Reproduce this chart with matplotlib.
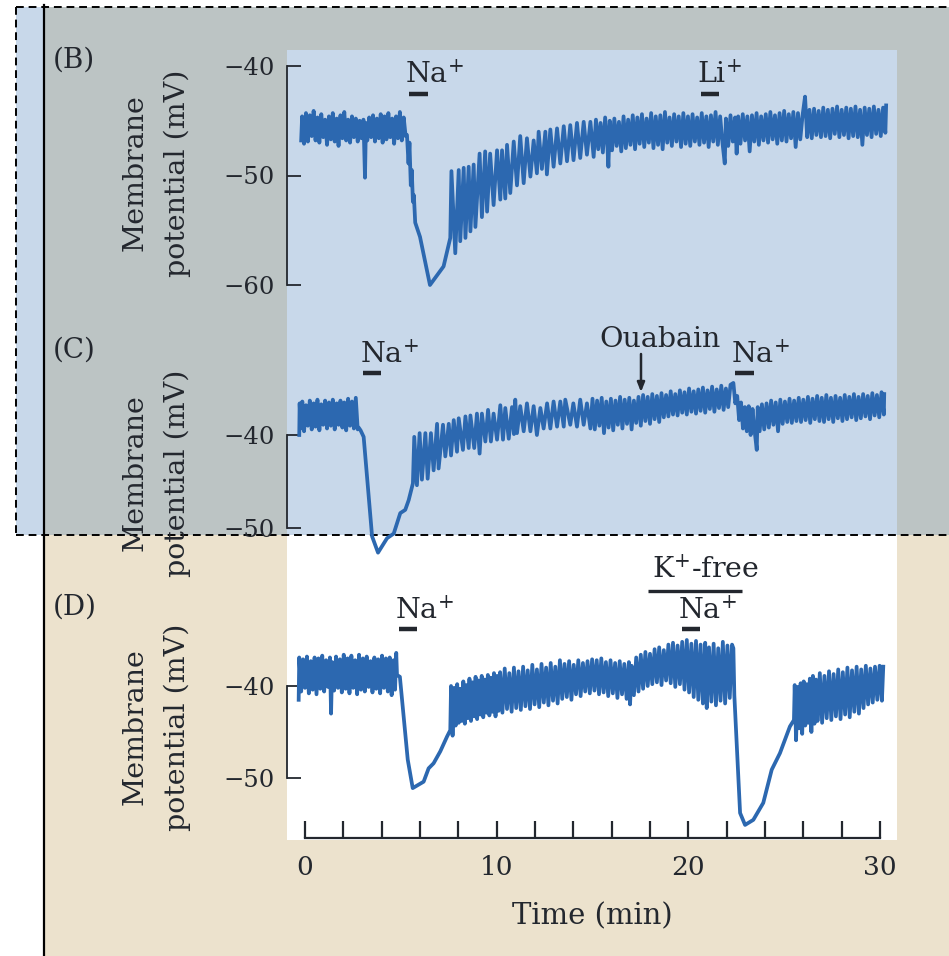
import matplotlib.pyplot as plt
from matplotlib.patches import Rectangle

plt.rcParams['font.family'] = ['DejaVu Serif']
plt.rcParams['mathtext.fontset'] = 'dejavuserif'

W, H = 949, 956
TRACE = '#2c68b0'
INK = '#23272e'

# time (min), membrane potential (mV)
B_TRACE = [
    (-0.20, -46.8), (-0.15, -44.6), (-0.05, -47.1), (0.05, -44.3), (0.15, -46.9), (0.25, -44.5),
    (0.35, -46.4), (0.45, -44.1), (0.55, -46.8), (0.65, -44.7), (0.75, -47.0), (0.85, -44.4),
    (0.95, -46.5), (1.05, -44.9), (1.15, -47.2), (1.25, -44.6), (1.35, -46.7), (1.45, -44.3),
    (1.55, -46.9), (1.65, -44.8), (1.75, -47.3), (1.85, -44.5), (1.95, -46.6), (2.05, -44.2),
    (2.15, -46.8), (2.25, -44.9), (2.35, -47.0), (2.45, -44.6), (2.55, -46.5), (2.65, -44.8),
    (2.75, -46.9), (2.85, -45.0), (2.95, -46.6), (3.05, -44.9), (3.13, -50.2), (3.18, -45.2),
    (3.25, -46.8), (3.35, -44.7), (3.45, -46.5), (3.55, -44.5), (3.65, -46.9), (3.75, -44.8),
    (3.85, -46.6), (3.95, -44.4), (4.05, -47.0), (4.15, -44.6), (4.25, -46.7), (4.35, -44.3),
    (4.45, -46.5), (4.55, -44.8), (4.65, -47.1), (4.75, -44.6), (4.85, -46.6), (4.95, -44.2),
    (5.05, -46.8), (5.15, -44.7), (5.25, -46.4), (5.32, -46.3), (5.40, -48.9), (5.45, -47.0),
    (5.52, -50.9), (5.57, -49.5), (5.63, -52.4), (5.68, -51.8), (5.75, -54.3), (6.00, -55.6),
    (6.52, -60.0), (7.23, -58.3), (7.58, -55.7),
    (7.64, -49.6), (7.84, -57.1), (8.02, -49.5), (8.10, -56.0), (8.28, -49.3), (8.37, -55.7),
    (8.54, -49.2), (8.63, -55.1), (8.80, -49.0), (8.89, -54.7), (9.11, -48.0), (9.23, -53.8),
    (9.40, -47.8), (9.50, -53.3), (9.66, -48.0), (9.84, -52.7), (10.02, -47.7), (10.19, -52.2),
    (10.28, -47.7), (10.45, -52.1), (10.54, -47.2), (10.71, -51.6), (10.89, -46.9), (11.06, -50.9),
    (11.23, -46.4), (11.41, -50.7), (11.58, -46.6), (11.76, -50.1), (11.93, -46.8), (12.10, -49.8),
    (12.19, -46.0), (12.36, -49.4), (12.54, -46.0), (12.62, -49.9), (12.80, -45.8), (12.97, -49.2),
    (13.15, -45.7), (13.32, -48.9), (13.50, -45.5), (13.67, -48.7), (13.84, -45.4), (14.01, -48.6),
    (14.19, -45.2), (14.36, -48.4), (14.54, -45.1), (14.71, -48.1), (14.89, -45.1), (15.06, -48.3),
    (15.18, -44.9), (15.30, -47.6), (15.42, -45.2), (15.54, -47.9), (15.66, -44.7), (15.78, -47.4),
    (15.83, -49.2), (15.90, -45.0), (16.02, -47.7), (16.14, -44.8), (16.26, -47.3), (16.38, -45.1),
    (16.50, -47.8), (16.62, -44.6), (16.74, -47.5), (16.86, -44.9), (16.98, -47.2), (17.10, -44.5),
    (17.22, -47.6), (17.34, -44.7), (17.46, -47.1), (17.58, -44.4), (17.70, -47.4), (17.82, -44.8),
    (17.94, -47.0), (18.06, -44.3), (18.18, -47.5), (18.30, -44.6), (18.42, -47.2), (18.54, -44.5),
    (18.66, -47.6), (18.78, -44.2), (18.90, -47.0), (19.02, -44.7), (19.14, -47.3), (19.26, -44.4),
    (19.38, -46.9), (19.50, -44.6), (19.62, -47.4), (19.74, -44.3), (19.86, -47.1), (19.98, -44.6),
    (20.10, -47.3), (20.22, -44.4), (20.34, -46.9), (20.46, -44.7), (20.58, -47.2), (20.70, -44.3),
    (20.82, -47.0), (20.94, -44.6), (21.06, -47.4), (21.18, -44.5), (21.30, -46.9), (21.42, -44.2),
    (21.54, -47.2), (21.66, -44.6), (21.78, -47.0), (21.90, -48.9), (21.96, -44.8), (22.08, -47.3),
    (22.20, -44.5), (22.32, -46.9), (22.44, -44.7), (22.52, -48.0), (22.60, -44.6), (22.72, -47.1),
    (22.84, -44.4), (22.96, -46.8), (23.08, -44.6), (23.20, -47.8), (23.32, -44.5), (23.44, -46.9),
    (23.56, -44.3), (23.68, -47.2), (23.80, -44.6), (23.92, -46.8), (24.04, -44.4), (24.16, -47.0),
    (24.28, -44.2), (24.40, -46.7), (24.52, -44.5), (24.64, -47.1), (24.76, -44.3), (24.88, -46.8),
    (25.00, -44.1), (25.12, -46.9), (25.24, -44.4), (25.36, -46.6), (25.48, -44.2), (25.60, -47.4),
    (25.72, -44.3), (25.84, -46.7), (25.96, -44.5), (26.09, -42.8), (26.20, -46.5), (26.32, -44.0),
    (26.44, -46.6), (26.56, -43.9), (26.68, -46.3), (26.80, -44.1), (26.92, -46.5), (27.04, -43.8),
    (27.16, -46.4), (27.28, -44.0), (27.40, -46.6), (27.52, -43.9), (27.64, -46.2), (27.76, -43.7),
    (27.88, -46.5), (28.00, -44.0), (28.12, -46.3), (28.24, -43.8), (28.36, -46.6), (28.48, -43.9),
    (28.60, -46.4), (28.72, -43.7), (28.84, -46.5), (28.96, -44.0), (29.08, -47.2), (29.20, -43.8),
    (29.32, -46.3), (29.44, -43.9), (29.56, -46.5), (29.68, -43.7), (29.80, -46.2), (29.92, -44.0),
    (30.04, -46.4), (30.16, -43.8), (30.28, -46.1), (30.32, -43.6),
]

C_TRACE = [
    (-0.30, -40.0), (-0.28, -36.6), (-0.22, -39.3), (-0.14, -36.4), (-0.05, -39.6), (0.05, -36.8),
    (0.15, -39.0), (0.25, -36.3), (0.35, -39.4), (0.45, -36.6), (0.55, -39.1), (0.65, -36.2),
    (0.75, -39.5), (0.85, -36.7), (0.95, -38.9), (1.05, -36.3), (1.15, -39.3), (1.25, -36.5),
    (1.35, -39.0), (1.45, -36.2), (1.55, -39.4), (1.65, -36.6), (1.75, -38.9), (1.85, -36.3),
    (1.95, -39.2), (2.05, -36.5), (2.15, -39.5), (2.25, -36.1), (2.35, -39.0), (2.45, -36.4),
    (2.55, -39.3), (2.65, -36.0), (2.75, -39.4), (2.80, -39.2), (2.90, -39.5), (3.06, -40.2),
    (3.50, -50.9), (3.81, -52.65), (4.28, -51.1), (4.63, -50.6), (4.97, -48.4), (5.23, -48.05),
    (5.41, -47.0), (5.63, -45.2),
    (5.70, -40.2), (5.84, -45.4), (5.98, -39.8), (6.10, -44.8), (6.28, -39.8), (6.40, -44.7),
    (6.57, -39.8), (6.71, -43.8), (6.89, -38.8), (6.97, -43.6), (7.20, -38.9), (7.32, -42.3),
    (7.50, -38.8), (7.62, -42.2), (7.76, -38.4), (7.93, -41.8), (8.02, -38.2), (8.24, -41.6),
    (8.37, -38.0), (8.54, -41.4), (8.63, -37.9), (8.83, -41.4), (8.97, -37.7), (9.11, -42.0),
    (9.23, -37.7), (9.41, -40.7), (9.55, -37.3), (9.70, -40.7), (9.84, -37.7), (10.02, -40.5),
    (10.19, -36.8), (10.33, -40.5), (10.45, -37.1), (10.63, -40.4), (10.80, -37.0), (10.90, -39.9),
    (10.97, -36.2), (11.06, -39.8), (11.23, -36.9), (11.41, -39.6), (11.58, -36.6), (11.76, -39.6),
    (11.93, -36.9), (12.10, -40.0), (12.28, -37.1), (12.45, -39.3), (12.63, -36.6), (12.80, -39.3),
    (12.97, -36.4), (13.15, -39.1), (13.32, -36.4), (13.50, -39.1), (13.58, -36.2), (13.84, -38.9),
    (14.00, -36.6), (14.19, -39.1), (14.36, -36.2), (14.54, -38.9), (14.71, -36.6), (14.89, -39.3),
    (15.00, -36.1), (15.12, -39.4), (15.24, -36.3), (15.36, -39.0), (15.48, -36.0), (15.60, -39.8),
    (15.72, -36.4), (15.84, -39.2), (15.96, -36.1), (16.08, -39.5), (16.20, -36.3), (16.32, -38.9),
    (16.44, -35.9), (16.56, -39.3), (16.68, -36.2), (16.80, -38.8), (16.92, -36.0), (17.04, -39.4),
    (17.16, -36.3), (17.28, -38.7), (17.40, -35.9), (17.52, -39.0), (17.64, -35.7), (17.76, -38.5),
    (17.88, -35.9), (18.00, -38.8), (18.12, -35.6), (18.24, -38.3), (18.36, -35.8), (18.48, -38.6),
    (18.60, -35.5), (18.72, -38.1), (18.84, -35.7), (18.96, -38.0), (19.08, -35.3), (19.20, -37.8),
    (19.32, -35.6), (19.44, -37.9), (19.56, -35.2), (19.68, -37.6), (19.80, -35.4), (19.92, -37.8),
    (20.04, -35.0), (20.16, -37.5), (20.28, -35.3), (20.40, -37.7), (20.52, -35.1), (20.64, -37.4),
    (20.76, -34.9), (20.88, -37.6), (21.00, -35.2), (21.12, -37.2), (21.24, -34.8), (21.36, -37.5),
    (21.48, -35.1), (21.60, -37.1), (21.72, -34.7), (21.84, -37.3), (21.96, -35.0), (22.08, -37.0),
    (22.20, -34.6), (22.35, -34.4), (22.45, -36.6), (22.55, -35.8), (22.65, -38.4), (22.75, -36.5),
    (22.85, -39.3), (22.95, -37.0), (23.05, -39.6), (23.15, -36.9), (23.25, -40.0), (23.35, -37.2),
    (23.45, -39.4), (23.57, -41.6), (23.62, -37.0), (23.72, -39.6), (23.84, -36.7), (23.96, -39.4),
    (24.08, -36.6), (24.20, -39.2), (24.32, -36.3), (24.44, -38.9), (24.56, -36.5), (24.68, -39.6),
    (24.80, -36.2), (24.92, -38.8), (25.04, -36.4), (25.16, -38.6), (25.28, -36.1), (25.40, -38.7),
    (25.52, -36.3), (25.64, -38.5), (25.76, -36.0), (25.88, -38.6), (26.00, -36.2), (26.12, -38.4),
    (26.24, -35.9), (26.36, -38.7), (26.48, -36.1), (26.60, -38.3), (26.72, -35.8), (26.84, -38.5),
    (26.96, -36.0), (27.08, -38.6), (27.20, -35.7), (27.32, -38.3), (27.44, -36.0), (27.56, -38.6),
    (27.68, -35.8), (27.80, -38.2), (27.92, -36.0), (28.04, -38.5), (28.16, -35.7), (28.28, -38.3),
    (28.40, -35.9), (28.52, -38.1), (28.64, -35.6), (28.76, -38.4), (28.88, -35.9), (29.00, -38.2),
    (29.12, -35.6), (29.24, -38.0), (29.36, -35.8), (29.48, -38.3), (29.60, -35.5), (29.72, -37.9),
    (29.84, -35.7), (29.96, -38.1), (30.08, -35.4), (30.20, -37.8), (30.22, -35.6),
]

D_TRACE = [
    (-0.33, -41.5), (-0.30, -36.9), (-0.20, -40.6), (-0.10, -37.1), (0.00, -40.2), (0.10, -36.8),
    (0.20, -40.8), (0.30, -37.3), (0.40, -40.4), (0.50, -36.9), (0.60, -40.9), (0.70, -37.0),
    (0.80, -40.3), (0.90, -36.7), (1.00, -40.6), (1.10, -37.2), (1.20, -40.1), (1.30, -36.9),
    (1.36, -43.0), (1.42, -37.4), (1.52, -40.5), (1.62, -36.8), (1.72, -40.2), (1.82, -37.1),
    (1.92, -40.7), (2.02, -36.6), (2.12, -40.3), (2.22, -37.0), (2.32, -40.8), (2.42, -36.7),
    (2.52, -40.2), (2.62, -37.2), (2.72, -40.9), (2.82, -36.6), (2.92, -40.4), (3.02, -37.0),
    (3.12, -40.6), (3.22, -36.8), (3.32, -40.1), (3.42, -37.3), (3.52, -40.7), (3.62, -36.9),
    (3.72, -40.3), (3.82, -37.1), (3.92, -40.8), (4.02, -36.7), (4.12, -40.2), (4.22, -37.0),
    (4.32, -40.6), (4.42, -36.9), (4.52, -41.0), (4.62, -37.2), (4.70, -40.4), (4.76, -36.4),
    (4.80, -38.8), (4.95, -39.0), (5.36, -48.0), (5.62, -51.1), (6.19, -50.4), (6.45, -48.95),
    (6.71, -48.4), (7.06, -47.1), (7.41, -45.5), (7.58, -44.8),
    (7.62, -40.0), (7.70, -45.4), (7.78, -40.2), (7.86, -44.3), (7.94, -39.8), (8.02, -44.0),
    (8.10, -40.3), (8.18, -43.8), (8.26, -39.5), (8.34, -44.1), (8.42, -39.9), (8.50, -43.5),
    (8.58, -39.2), (8.66, -43.8), (8.74, -39.6), (8.82, -43.3), (8.90, -39.0), (8.98, -43.6),
    (9.06, -39.4), (9.14, -43.1), (9.22, -38.9), (9.30, -43.4), (9.38, -39.3), (9.46, -42.9),
    (9.54, -38.8), (9.62, -43.2), (9.70, -39.1), (9.78, -42.8), (9.86, -38.6), (9.94, -43.3),
    (10.02, -38.9), (10.10, -42.7), (10.18, -38.5), (10.30, -42.9), (10.42, -38.1), (10.54, -42.5),
    (10.66, -38.6), (10.78, -42.8), (10.90, -38.0), (11.02, -42.4), (11.14, -38.4), (11.26, -42.6),
    (11.38, -37.9), (11.50, -42.2), (11.62, -38.3), (11.74, -42.5), (11.86, -37.7), (11.98, -42.0),
    (12.10, -38.2), (12.22, -42.3), (12.34, -37.6), (12.46, -41.8), (12.58, -38.0), (12.70, -42.1),
    (12.82, -37.5), (12.94, -41.6), (13.06, -37.9), (13.18, -41.9), (13.30, -37.2), (13.42, -41.4),
    (13.54, -37.6), (13.66, -41.2), (13.78, -37.3), (13.90, -41.5), (14.02, -37.7), (14.14, -40.9),
    (14.26, -37.2), (14.38, -41.1), (14.50, -37.5), (14.62, -40.6), (14.74, -37.3), (14.86, -40.8),
    (14.98, -37.1), (15.10, -40.5), (15.22, -37.2), (15.34, -40.9), (15.46, -37.0), (15.58, -40.7),
    (15.70, -37.4), (15.82, -41.1), (15.94, -37.2), (16.06, -40.8), (16.18, -37.5), (16.30, -41.3),
    (16.42, -37.3), (16.54, -40.9), (16.66, -37.6), (16.78, -41.4), (16.90, -37.4), (16.96, -42.0),
    (17.04, -37.8), (17.16, -41.0), (17.28, -36.9), (17.40, -40.6), (17.52, -36.6), (17.64, -40.3),
    (17.76, -36.3), (17.88, -40.0), (18.00, -36.5), (18.12, -39.8), (18.24, -36.0), (18.36, -39.6),
    (18.48, -35.8), (18.60, -39.9), (18.72, -36.1), (18.84, -39.4), (18.96, -35.5), (19.08, -39.7),
    (19.20, -35.3), (19.32, -40.1), (19.44, -35.6), (19.56, -39.8), (19.68, -35.2), (19.80, -40.4),
    (19.92, -35.0), (20.04, -40.7), (20.16, -35.4), (20.28, -41.2), (20.40, -35.1), (20.52, -41.5),
    (20.64, -35.5), (20.76, -41.9), (20.88, -35.3), (20.96, -42.4), (21.08, -35.8), (21.20, -41.7),
    (21.32, -35.4), (21.44, -42.1), (21.56, -35.9), (21.68, -41.6), (21.80, -35.2), (21.92, -41.9),
    (22.04, -35.6), (22.16, -41.3), (22.28, -35.5), (22.35, -35.9), (22.40, -41.0), (22.70, -53.8),
    (22.96, -55.1), (23.39, -54.55), (23.91, -52.7), (24.35, -49.1), (24.78, -47.3), (25.30, -44.4),
    (25.51, -43.7),
    (25.55, -39.9), (25.62, -45.9), (25.70, -40.1), (25.78, -44.6), (25.86, -39.7), (25.94, -45.2),
    (26.02, -39.5), (26.10, -44.3), (26.18, -39.8), (26.26, -44.0), (26.34, -39.2), (26.42, -45.0),
    (26.50, -38.9), (26.58, -44.1), (26.66, -39.3), (26.74, -43.8), (26.86, -38.6), (26.98, -44.0),
    (27.10, -38.9), (27.22, -43.5), (27.34, -38.4), (27.46, -43.7), (27.58, -38.7), (27.70, -43.3),
    (27.82, -38.2), (27.94, -43.6), (28.06, -38.5), (28.18, -43.1), (28.30, -38.0), (28.42, -43.4),
    (28.54, -38.3), (28.66, -42.8), (28.78, -37.9), (28.90, -43.0), (29.02, -38.2), (29.14, -42.4),
    (29.26, -37.8), (29.38, -42.0), (29.50, -38.1), (29.62, -41.8), (29.74, -37.9), (29.86, -41.5),
    (29.98, -37.8), (30.10, -41.6), (30.17, -37.9),
]

# application periods: (start min, end min, label)
B_BARS = [(5.41, 6.40, 'Na$^{+}$'), (20.64, 21.62, 'Li$^{+}$')]
C_BARS = [(3.03, 3.98, 'Na$^{+}$'), (22.43, 23.43, 'Na$^{+}$')]
D_BARS = [(4.89, 5.84, 'Na$^{+}$'), (19.65, 20.60, 'Na$^{+}$')]
K_FREE = (17.90, 22.80)
OUABAIN_T = 17.53
X_TICKS = list(range(0, 31, 2))

# pixel calibration of the time axis
T0_PX, T30_PX = 305, 880
PX_PER_MIN = (T30_PX - T0_PX) / 30.0
AX_LEFT_PX, AX_RIGHT_PX = 287, 897


def fx(px):
    return px / W


def fy(py):
    return 1 - py / H


fig = plt.figure(figsize=(W / 100, H / 100), dpi=100)

# --- background blocks and dashed outline ---
bg = fig.add_axes([0, 0, 1, 1])
bg.set_xlim(0, W)
bg.set_ylim(H, 0)
bg.axis('off')
for x0, y0, x1, y1, c in [
    (16, 7, 45, 535, '#c8d8ea'),
    (45, 7, W, 535, '#bcc4c4'),
    (45, 535, W, H, '#ece2cd'),
    (AX_LEFT_PX, 50, AX_RIGHT_PX, 535, '#c8d8ea'),
    (AX_LEFT_PX, 535, AX_RIGHT_PX, 840, 'white'),
]:
    bg.add_patch(Rectangle((x0, y0), x1 - x0, y1 - y0, color=c, lw=0))
dash = dict(color='black', lw=1.4, ls=(0, (4, 2.5)))
bg.plot([16, W], [7, 7], **dash)
bg.plot([16, W], [535, 535], **dash)
bg.plot([16, 16], [7, 535], **dash)
bg.plot([44.5, 44.5], [5, H], color='black', lw=1.6)


def make_panel(top_px, bot_px, ref_px, px_per_mv):
    ax = fig.add_axes([fx(AX_LEFT_PX), fy(bot_px), (AX_RIGHT_PX - AX_LEFT_PX) / W,
                       (bot_px - top_px) / H])
    ax.set_facecolor('none')
    ax.set_xlim((AX_LEFT_PX - T0_PX) / PX_PER_MIN, (AX_RIGHT_PX - T0_PX) / PX_PER_MIN)
    ax.set_ylim(-40 - (bot_px - ref_px) / px_per_mv, -40 - (top_px - ref_px) / px_per_mv)
    for s in ['top', 'right', 'bottom']:
        ax.spines[s].set_visible(False)
    ax.spines['left'].set_color(INK)
    ax.spines['left'].set_linewidth(1.3)
    ax.tick_params(axis='y', direction='in', length=10, width=1.3, color=INK,
                   labelsize=17.5, labelcolor=INK, pad=9)
    ax.set_xticks([])
    return ax


ax_b = make_panel(40, 300, 66, 10.95)
ax_c = make_panel(300, 560, 435, 9.3)
ax_d = make_panel(540, 838, 686, 9.2)

for ax, ticks in [(ax_b, [-40, -50, -60]), (ax_c, [-40, -50]), (ax_d, [-40, -50])]:
    ax.spines['left'].set_bounds(min(ticks), max(ticks))
    ax.set_yticks(ticks)
    ax.set_yticklabels(['\u2212%d' % abs(t) for t in ticks])

for ax, trace in [(ax_b, B_TRACE), (ax_c, C_TRACE), (ax_d, D_TRACE)]:
    t, v = zip(*trace)
    ax.plot(t, v, color=TRACE, lw=2.7, clip_on=False, zorder=3)


def bars(ax, items, bar_v, text_v, text_dx=-0.18):
    for t0, t1, lab in items:
        ax.plot([t0, t1], [bar_v, bar_v], color=INK, lw=3.2, solid_capstyle='butt', clip_on=False)
        ax.text(t0 + text_dx, text_v, lab, fontsize=20.5, color=INK, ha='left', va='baseline')


bars(ax_b, B_BARS, -42.56, -41.55)
bars(ax_c, C_BARS, -33.33, -32.26)
bars(ax_d, D_BARS, -33.84, -32.7)

ax_c.text(15.34, -30.51, 'Ouabain', fontsize=20.5, color=INK, ha='left', va='baseline')
ax_c.annotate('', xy=(OUABAIN_T, -35.38), xytext=(OUABAIN_T, -31.29),
              arrowprops=dict(arrowstyle='-|>,head_length=0.55,head_width=0.22', color=INK,
                              lw=1.8, shrinkA=0, shrinkB=0), annotation_clip=False)

ax_d.plot(list(K_FREE), [-29.67, -29.67], color=INK, lw=2.4, solid_capstyle='butt', clip_on=False)
ax_d.text(18.10, -28.26, 'K$^{+}$-free', fontsize=20.5, color=INK, ha='left', va='baseline')

# time axis on the bottom panel
ax_d.spines['bottom'].set_visible(True)
ax_d.spines['bottom'].set_color(INK)
ax_d.spines['bottom'].set_linewidth(1.6)
ax_d.spines['bottom'].set_bounds(0, 30)
ax_d.set_xticks(X_TICKS)
ax_d.set_xticklabels([str(t) if t % 10 == 0 else '' for t in X_TICKS])
ax_d.tick_params(axis='x', direction='in', length=12, width=1.6, color=INK,
                 labelsize=19, labelcolor=INK, pad=12)
ax_d.set_xlabel('Time (min)', fontsize=21, color=INK, labelpad=16)

# panel letters and axis titles
for lab, py in [('(B)', 60), ('(C)', 350), ('(D)', 607)]:
    fig.text(fx(53), fy(py), lab, fontsize=20, color=INK, ha='left', va='center')
for py in [173, 473, 727]:
    fig.text(fx(135), fy(py), 'Membrane', fontsize=20.5, color=INK, rotation=90,
             ha='center', va='center')
    fig.text(fx(177), fy(py), 'potential (mV)', fontsize=20.5, color=INK, rotation=90,
             ha='center', va='center')

fig.savefig('out.png', dpi=100)
